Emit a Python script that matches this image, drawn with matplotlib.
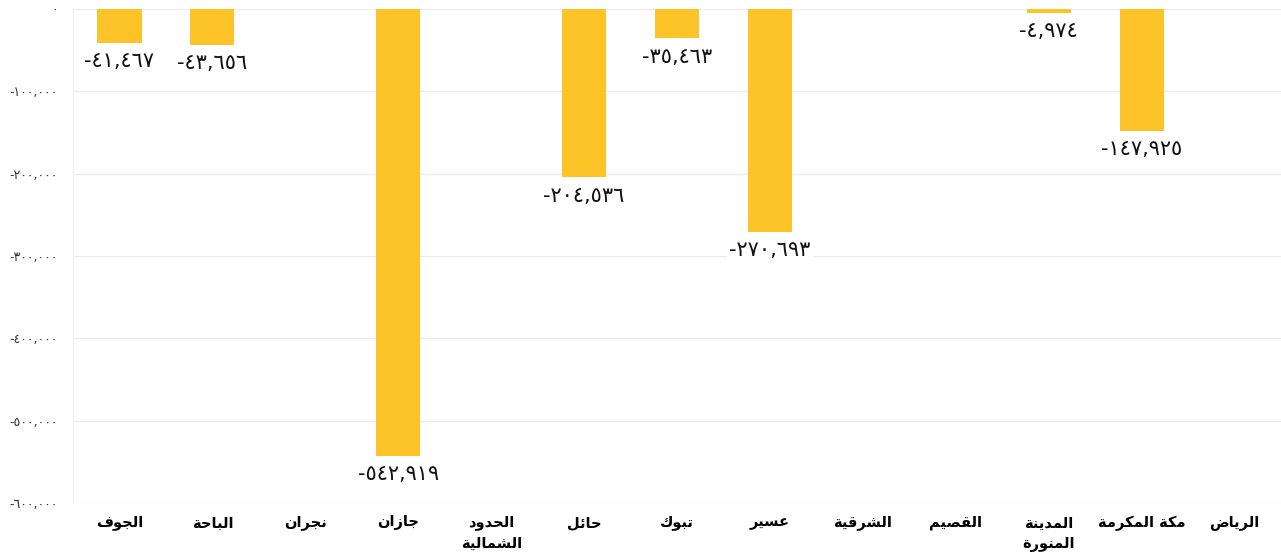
import matplotlib
matplotlib.use("Agg")
import matplotlib.pyplot as plt
import numpy as np

regions = ["الجوف", "الباحة", "نجران", "جازان", "الحدود الشمالية", "حائل", "تبوك",
           "عسير", "الشرقية", "القصيم", "المدينة المنورة", "مكة المكرمة", "الرياض"]
values = [-41467, -43656, np.nan, -542919, np.nan, -204536, -35463,
          -270693, np.nan, np.nan, -4974, -147925, np.nan]
yticks = [0, -100000, -200000, -300000, -400000, -500000, -600000]

# Arabic presentation forms: isolated, final, initial, medial
FORMS = {
    'ا': ('\uFE8D', '\uFE8E', None, None),
    'ب': ('\uFE8F', '\uFE90', '\uFE91', '\uFE92'),
    'ة': ('\uFE93', '\uFE94', None, None),
    'ت': ('\uFE95', '\uFE96', '\uFE97', '\uFE98'),
    'ج': ('\uFE9D', '\uFE9E', '\uFE9F', '\uFEA0'),
    'ح': ('\uFEA1', '\uFEA2', '\uFEA3', '\uFEA4'),
    'د': ('\uFEA9', '\uFEAA', None, None),
    'ر': ('\uFEAD', '\uFEAE', None, None),
    'ز': ('\uFEAF', '\uFEB0', None, None),
    'س': ('\uFEB1', '\uFEB2', '\uFEB3', '\uFEB4'),
    'ش': ('\uFEB5', '\uFEB6', '\uFEB7', '\uFEB8'),
    'ص': ('\uFEB9', '\uFEBA', '\uFEBB', '\uFEBC'),
    'ض': ('\uFEBD', '\uFEBE', '\uFEBF', '\uFEC0'),
    'ع': ('\uFEC9', '\uFECA', '\uFECB', '\uFECC'),
    'ف': ('\uFED1', '\uFED2', '\uFED3', '\uFED4'),
    'ق': ('\uFED5', '\uFED6', '\uFED7', '\uFED8'),
    'ك': ('\uFED9', '\uFEDA', '\uFEDB', '\uFEDC'),
    'ل': ('\uFEDD', '\uFEDE', '\uFEDF', '\uFEE0'),
    'م': ('\uFEE1', '\uFEE2', '\uFEE3', '\uFEE4'),
    'ن': ('\uFEE5', '\uFEE6', '\uFEE7', '\uFEE8'),
    'ه': ('\uFEE9', '\uFEEA', '\uFEEB', '\uFEEC'),
    'و': ('\uFEED', '\uFEEE', None, None),
    'ي': ('\uFEF1', '\uFEF2', '\uFEF3', '\uFEF4'),
    'ئ': ('\uFE89', '\uFE8A', '\uFE8B', '\uFE8C'),
}


def dual(c):
    return c in FORMS and FORMS[c][2] is not None


def shape_word(w):
    out = []
    for i, c in enumerate(w):
        if c not in FORMS:
            out.append(c)
            continue
        prev = w[i - 1] if i > 0 else None
        nxt = w[i + 1] if i + 1 < len(w) else None
        cp = prev is not None and dual(prev)
        cn = dual(c) and nxt is not None and nxt in FORMS
        iso, fin, ini, med = FORMS[c]
        if cp and cn:
            out.append(med)
        elif cp:
            out.append(fin)
        elif cn:
            out.append(ini)
        else:
            out.append(iso)
    return ''.join(out)[::-1]


def shape(text):
    words = text.split(' ')
    return ' '.join(shape_word(w) for w in reversed(words))


def wrap_label(text):
    words = text.split(' ')
    if len(words) == 2 and text not in ("مكة المكرمة",):
        return shape(words[0]) + "\n" + shape(words[1])
    return shape(text)


AR_DIGITS = str.maketrans("0123456789", "٠١٢٣٤٥٦٧٨٩")


def ar_num(v):
    return ("-" if v < 0 else "") + f"{abs(int(v)):,}".translate(AR_DIGITS)


fig = plt.figure(figsize=(12.81, 5.55), dpi=100)
ax = fig.add_axes([73 / 1281, 1 - 503 / 555, 1 - 73 / 1281, (503 - 9) / 555])

x = np.arange(len(regions))
ax.bar(x, values, width=0.475, color="#FDC42A", zorder=3)

for xi, v in zip(x, values):
    if np.isnan(v):
        continue
    ax.annotate(ar_num(v), (xi, v), xytext=(0, -6), textcoords="offset points",
                ha="center", va="top", fontsize=15, family="DejaVu Sans",
                color="#111111", zorder=4,
                bbox=dict(boxstyle="square,pad=0.1", fc="white", ec="none"))

ax.set_xlim(-0.5, len(regions) - 0.5)
ax.set_ylim(-600000, 0)
ax.set_yticks(yticks)
ax.set_yticklabels([ar_num(t) if t != 0 else "٠" for t in yticks], fontsize=9,
                   color="#333333")
ax.set_xticks(x)
ax.set_xticklabels([wrap_label(r) for r in regions], fontsize=10.5,
                   fontweight="bold", family="DejaVu Sans", va="top",
                   linespacing=1.45)
ax.tick_params(axis="both", length=0)
ax.tick_params(axis="y", pad=11)
ax.tick_params(axis="x", pad=9)
ax.grid(axis="y", color="#ececec", linewidth=1, zorder=0)
for s in ["top", "right", "bottom"]:
    ax.spines[s].set_visible(False)
ax.spines["left"].set_color("#eeeeee")

fig.savefig("out.png", dpi=100, facecolor="white")
